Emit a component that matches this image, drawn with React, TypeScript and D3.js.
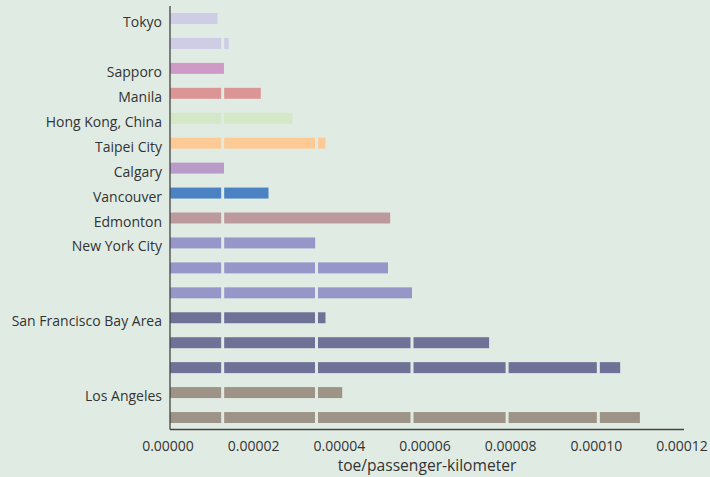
import React from 'react';
import * as d3 from 'd3';

// city labels, one per bar (blank rows are unlabeled bars)
const labels = [
  'Tokyo', '', 'Sapporo', 'Manila', 'Hong Kong, China', 'Taipei City', 'Calgary',
  'Vancouver', 'Edmonton', 'New York City', '', '', 'San Francisco Bay Area', '', '',
  'Los Angeles', '',
];

const colors = [
  '#cfcce6', '#cfcce6', '#d09ac7', '#db9594', '#d4e7c7', '#fdc995', '#b89bc8',
  '#4a82c4', '#bb999d', '#9796c9', '#9796c9', '#9796c9', '#6f7197', '#6f7197', '#6f7197',
  '#9d9387', '#9d9387',
];

// stacked pieces of each bar, toe/passenger-km (x 1e-5)
const segments = [
  [1.11],
  [1.23, 0.14],
  [1.26],
  [1.23, 0.89],
  [1.23, 1.63],
  [1.23, 2.19, 0.21],
  [1.26],
  [1.23, 1.07],
  [1.23, 3.91],
  [1.23, 2.16],
  [1.23, 2.19, 1.67],
  [1.23, 2.19, 2.23],
  [1.23, 2.19, 0.21],
  [1.23, 2.19, 2.23, 1.8],
  [1.23, 2.19, 2.23, 2.22, 2.13, 0.51],
  [1.23, 2.19, 0.6],
  [1.23, 2.19, 2.23, 2.22, 2.13, 0.97],
];

const xTicks = [0, 0.00002, 0.00004, 0.00006, 0.00008, 0.0001, 0.00012];

const W = 710;
const H = 477;
const font = '"Open Sans", sans-serif';

export default function App() {
  const x = d3.scaleLinear().domain([0, 0.00012]).range([170, 684]);
  const y = d3.scaleBand<number>()
    .domain(d3.range(labels.length))
    .range([6, 430])
    .paddingInner(0.56)
    .paddingOuter(0.28);
  const gap = 1.5;

  return (
    <svg width={W} height={H} style={{ position: 'absolute', left: 0, top: 0 }} fontFamily={font}>
      <rect width={W} height={H} fill="#e0ece3" />

      {segments.map((segs, i) => {
        const ends = Array.from(d3.cumsum(segs.map(v => v * 1e-5)));
        const cy = (y(i) ?? 0) + y.bandwidth() / 2;
        return (
          <g key={i}>
            {ends.map((end, j) => {
              const start = j === 0 ? 0 : ends[j - 1];
              const x0 = x(start) + (j === 0 ? 0 : gap);
              const x1 = x(end) - (j === ends.length - 1 ? 0 : gap);
              return (
                <rect key={j} x={x0} y={y(i)} width={Math.max(0, x1 - x0)}
                  height={y.bandwidth()} fill={colors[i]} />
              );
            })}
            {/* labels sit a bit below the bar centre in the original */}
            <text x={162} y={cy + 8.5} textAnchor="end" fontSize={14} fill="#333">{labels[i]}</text>
          </g>
        );
      })}

      {/* axes */}
      <line x1={170} x2={170} y1={6} y2={429.5} stroke="#444" strokeWidth={1.3} />
      <line x1={170} x2={684} y1={429.5} y2={429.5} stroke="#444" strokeWidth={1.3} />

      {xTicks.map(t => (
        <text key={t} x={x(t) - 2} y={451} textAnchor="middle" fontSize={14} fill="#333">
          {t.toFixed(5)}
        </text>
      ))}
      <text x={427} y={471} textAnchor="middle" fontSize={15.6} fill="#333">toe/passenger-kilometer</text>
    </svg>
  );
}
